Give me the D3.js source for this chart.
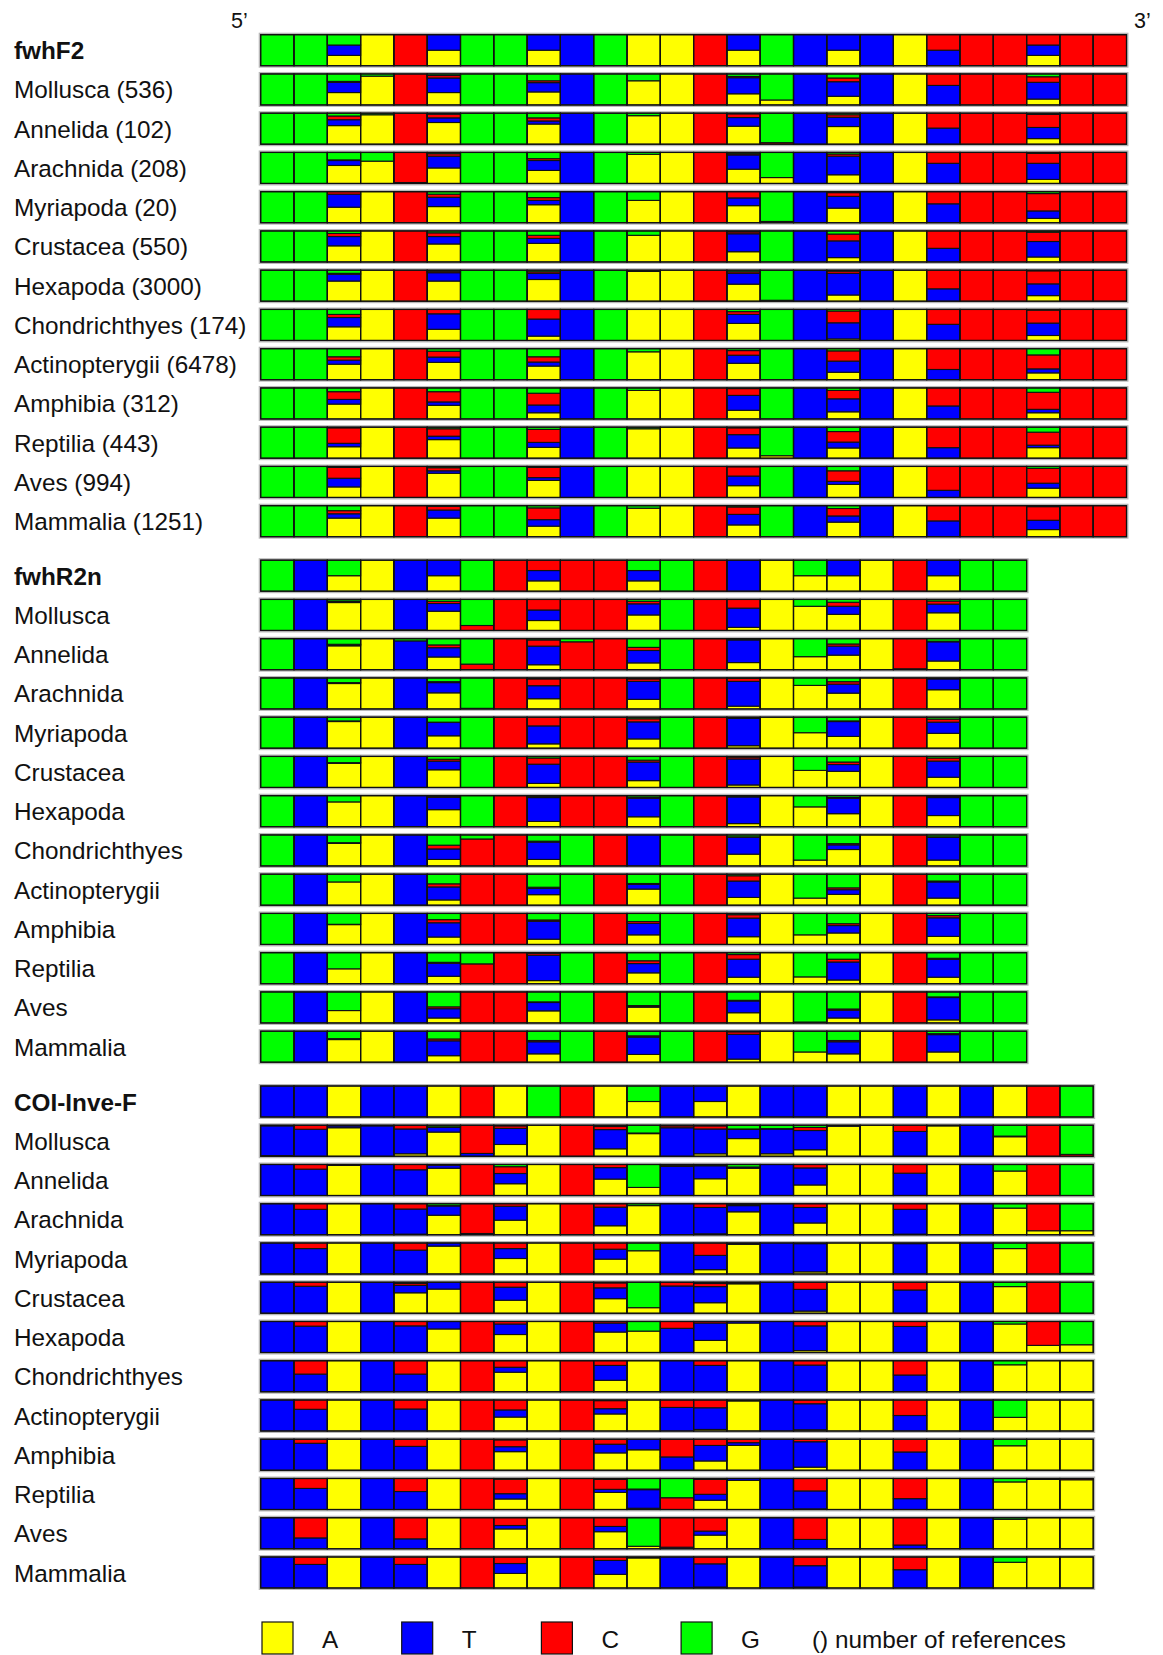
<!DOCTYPE html>
<html><head><meta charset="utf-8">
<script src="https://cdn.jsdelivr.net/npm/d3@7"></script>
<style>body{margin:0;background:#fff}</style>
</head><body>
<svg id="chart" width="1163" height="1655"></svg>
<script>
// ---------------- DATA ----------------
const bases = ["A", "T", "C", "G"];
const baseColors = ["#ffff00", "#0000ff", "#ff0000", "#00ff00"];
const iupac = {A:"A", T:"T", C:"C", G:"G", R:"AG", Y:"CT", W:"AT", D:"AGT", H:"ACT", S:"CG", K:"GT", M:"AC", N:"ACGT"};

const taxa = ["Mollusca","Annelida","Arachnida","Myriapoda","Crustacea","Hexapoda",
  "Chondrichthyes","Actinopterygii","Amphibia","Reptilia","Aves","Mammalia"];
const refCounts = [536, 102, 208, 20, 550, 3000, 174, 6478, 312, 443, 994, 1251];

const primers = ["fwhF2", "fwhR2n", "COI-Inve-F"];
const fwhF2Seq = "GGDACWGGWTGAACWGTWTAYCCHCC";
const fwhR2nSeq = "GTRATWGCHCCDGCTARWACWGG";
const coiInveFSeq = "TTATTACAGCARTWATTAATATACG";

// each cell: a base letter (100%) or [A%, T%, C%, G%]
const fwhF2Rows = [
 ["G","G",[40,33,3,24],[93,0,0,7],"C",[40,47,8,5],"G","G",[42,30,6,22],"T","G",[78,0,0,22],"A","C",[36,52,4,8],[16,0,0,84],"T",[28,47,12,13],"T","A",[0,63,37,0],"C","C",[19,54,18,9],"C","C"],
 ["G","G",[60,19,12,9],[95,0,0,5],"C",[70,15,12,3],"G","G",[65,10,10,15],"T","G",[92,0,0,8],"A","C",[58,28,12,2],[0,0,5,95],"T",[57,30,8,5],"T","A",[0,52,48,0],"C","C",[18,36,42,4],"C","C"],
 ["G","G",[58,16,2,24],[72,0,0,28],[0,3,97,0],[50,38,8,4],"G","G",[42,32,6,20],"T","G",[94,0,0,6],"A","C",[46,46,4,4],[19,0,0,81],"T",[28,60,7,5],"T","A",[0,65,35,0],"C","C",[13,52,32,3],"C","C"],
 ["G","G",[50,42,8,0],"A","C",[52,30,10,8],"G","G",[58,14,9,19],"T","G",[72,0,0,28],"A","C",[55,25,20,0],[4,0,0,96],"T",[47,38,12,3],"T","A",[0,61,39,0],"C","C",[14,24,56,6],"C","C"],
 ["G","G",[52,30,10,8],"A","C",[58,24,12,6],"G","G",[60,16,10,14],"T","G",[86,0,0,14],"A","C",[33,58,6,3],"G","T",[14,54,22,10],"T","A",[0,44,56,0],"C","C",[16,50,30,4],"C","C"],
 ["G","G",[65,22,3,10],"A","C",[65,27,5,3],"G","G",[70,20,5,5],"T","G",[96,0,0,4],"A","C",[55,35,5,5],[0,0,3,97],"T",[20,70,7,3],"T","A",[0,40,60,0],"C","C",[18,38,42,2],"C","C"],
 ["G","G",[44,30,10,16],"A","C",[36,50,14,0],"G","G",[14,55,31,0],"T","G","A","A","C",[55,29,9,7],"G","T",[5,52,38,5],"T","A",[0,52,48,0],"C","C",[16,40,42,2],"C","C"],
 ["G","G",[50,13,11,26],"A","C",[56,17,19,8],"G","G",[44,13,17,26],"T","G",[90,0,0,10],"A","C",[53,26,15,6],"G","T",[24,36,33,7],"T","A",[0,33,67,0],"C","C",[22,13,45,20],"C","C"],
 ["G","G",[48,15,25,12],"A","C",[44,11,33,12],"G","G",[20,25,38,17],"T","G",[92,0,0,8],"A","C",[28,48,22,2],"G","T",[23,42,27,8],"T","A",[0,42,58,0],"C","C",[20,11,55,14],"C","C"],
 ["G","G",[37,11,50,2],"A","C",[60,11,24,5],"G","G",[35,16,42,7],"T","G",[95,0,0,5],"A","C",[33,43,22,2],[8,0,0,92],"T",[33,19,34,14],"T","A",[0,34,66,0],"C","C",[34,8,42,16],"C","C"],
 ["G","G",[34,28,35,3],"A","C",[78,8,10,4],"G","G",[55,9,33,3],"T","G","A","A","C",[38,31,30,1],"G","T",[42,10,34,14],"T","A",[0,23,77,0],"C","C",[30,16,48,6],"C","C"],
 ["G","G",[60,14,10,16],"A","C",[60,26,12,2],"G","G",[34,21,38,7],"T","G",[92,0,0,8],"A","C",[38,34,24,4],"G","T",[47,20,24,9],"T","A",[0,51,49,0],"C","C",[23,30,44,3],"C","C"]
];

const fwhR2nRows = [
 ["G","T",[90,3,2,5],"A",[2,98,0,0],[62,25,7,6],[0,0,16,84],"C",[32,34,34,0],"C","C",[50,36,8,6],"G","C",[10,62,28,0],"A",[78,0,0,22],[52,26,13,9],"A","C",[57,28,10,5],"G","G"],
 ["G","T",[77,3,2,18],"A",[0,93,0,7],[41,30,9,20],[0,0,18,82],"C",[16,60,20,4],[0,0,90,10],"C",[22,40,10,28],"G","C",[23,73,2,2],"A",[42,0,0,58],[47,29,7,17],"A",[3,0,97,0],[28,62,2,8],"G","G"],
 ["G","T",[82,3,0,15],"A","T",[52,33,3,12],[0,0,2,98],"C",[33,42,22,3],"C","C",[31,58,8,3],"G","C",[9,80,10,1],"A",[76,0,0,24],[51,29,8,12],"A","C",[62,35,1,2],"G","G"],
 ["G","T",[86,2,0,12],"A","T",[40,43,1,16],"G","C",[14,58,28,0],"C","C",[30,55,10,5],"G","C",[8,88,2,2],"A",[50,0,0,50],[38,48,2,12],"A","C",[48,36,10,6],"G","G"],
 ["G","T",[78,2,0,20],"A","T",[57,28,6,9],"G","C",[13,62,20,5],"C","C",[22,60,6,12],"G","C",[8,84,6,2],"A",[55,0,0,45],[52,22,8,18],"A","C",[33,52,10,5],"G","G"],
 ["G","T",[80,0,0,20],"A","T",[55,40,3,2],"G","C",[17,77,4,2],"C","C",[32,60,3,5],"G","C",[10,86,2,2],"A",[64,0,0,36],[42,50,2,6],"A","C",[36,58,3,3],"G","G"],
 ["G","T",[73,2,0,25],"A","T",[21,34,12,33],[0,0,87,13],"C",[21,56,3,20],"G","C","T","G","C",[38,55,1,6],"A",[19,0,0,81],[53,15,4,28],"A","C",[19,73,2,6],"G","G"],
 ["G","T",[75,0,0,25],"A","T",[17,42,10,31],"C","C",[34,20,4,42],"G","C",[52,15,3,30],"G","C",[25,53,17,5],"A",[23,0,0,77],[35,15,6,44],"A","C",[23,52,3,22],"G","G"],
 ["G","T",[64,1,0,35],"A","T",[24,46,10,20],"C","C",[17,58,4,21],"G","C",[31,37,6,26],"G","C",[25,60,11,4],"A",[31,0,0,69],[37,24,6,33],"A","C",[26,60,7,7],"G","G"],
 ["G","T",[48,0,0,52],"A","T",[24,42,3,31],[0,0,64,36],"C",[10,82,6,2],"G","C",[35,30,9,26],"G","C",[21,58,15,6],"A",[22,0,0,78],[12,58,9,21],"A","C",[21,58,3,18],"G","G"],
 ["G","T",[40,0,0,60],"A","T",[16,30,6,48],"C","C",[39,27,2,32],"G","C",[51,3,2,44],"G","C",[33,38,2,27],"A",[3,0,0,97],[16,25,4,55],"A","C",[10,72,2,16],"G","G"],
 ["G","T",[73,3,0,24],"A","T",[21,48,6,25],"C","C",[27,39,4,30],"G","C",[25,56,4,15],"G","C",[10,80,8,2],"A",[33,0,0,67],[27,39,4,30],"A","C",[33,56,3,8],"G","G"]
];

const coiInveFRows = [
 [[2,96,0,2],[0,87,13,0],[92,6,2,0],[0,98,2,0],[8,80,12,0],[78,15,2,5],[0,9,91,0],[38,52,8,2],"A","C",[24,62,10,4],[73,2,0,25],[0,92,6,2],[8,80,10,2],[57,30,1,12],[8,80,1,11],[21,62,10,7],[97,3,0,0],"A",[0,80,20,0],[98,2,0,0],"T",[63,2,0,35],"C",[0,0,6,94]],
 ["T",[0,85,15,0],[97,0,3,0],"T",[0,83,17,0],[88,10,2,0],"C",[38,33,22,7],"A","C",[53,37,10,0],[26,0,0,74],[0,94,4,2],[54,42,2,2],[88,4,0,8],"T",[34,55,11,0],"A","A",[0,72,28,0],"A","T",[79,0,0,21],"C","G"],
 ["T",[0,82,18,0],"A","T",[2,81,17,0],[63,30,1,6],[0,4,96,0],[47,45,8,0],"A","C",[29,60,11,0],[94,0,0,6],"T",[3,85,12,0],[74,20,3,3],"T",[38,50,12,0],"A","A",[2,80,18,0],"A","T",[86,0,0,14],[13,0,87,0],[13,0,0,87]],
 ["T",[0,82,18,0],"A","T",[0,77,23,0],[90,10,0,0],"C",[50,32,18,0],"A","C",[48,32,20,0],[75,0,0,25],"T",[14,46,40,0],[96,2,2,0],"T",[7,91,2,0],"A","A",[0,98,2,0],"A","T",[82,0,0,18],"C",[2,0,0,98]],
 ["T",[0,87,13,0],"A","T",[66,24,6,4],[78,22,0,0],"C",[42,42,16,0],"A","C",[47,35,16,2],[18,0,0,82],[0,88,12,0],[34,52,10,4],[95,3,2,0],"T",[7,70,23,0],"A","A",[0,75,25,0],"A","T",[86,0,0,14],"C","G"],
 ["T",[0,85,15,0],"A","T",[0,86,14,0],[76,24,0,0],"C",[58,34,8,0],"A","C",[66,29,5,0],[69,0,0,31],[0,78,22,0],[39,56,5,0],[95,5,0,0],"T",[6,80,14,0],"A","A",[0,84,16,0],"A","T",[92,0,0,8],[23,0,77,0],[25,0,0,75]],
 ["T",[0,57,43,0],"A","T",[0,57,43,0],"A","C",[63,16,21,0],"A","C",[37,48,15,0],"A","T",[0,85,15,0],"A","T",[0,86,14,0],"A","A",[0,54,46,0],"A","T",[87,0,0,13],"A","A"],
 ["T",[0,70,30,0],"A","T",[0,71,29,0],"A","C",[45,23,32,0],"A","C",[55,17,26,2],"A",[0,76,24,0],[5,70,25,0],[97,3,0,0],"T",[4,84,12,0],"A","A",[0,50,50,0],"A","T",[44,0,0,56],"A","A"],
 ["T",[0,87,13,0],"A","T",[0,77,23,0],"A","C",[60,16,22,2],"A","C",[56,28,16,0],[66,34,0,0],[0,43,57,0],[30,50,20,0],[80,9,11,0],"T",[10,82,8,0],"A","A",[0,59,41,0],"A","T",[79,0,0,21],"A","A"],
 ["T",[0,68,32,0],"A","T",[0,58,42,0],"A","C",[34,17,47,2],"A","C",[55,10,32,3],[4,60,2,34],[0,0,38,62],[30,19,48,3],[94,6,0,0],"T",[2,58,40,0],"A","A",[0,35,65,0],"A","T",[89,0,0,11],[97,3,0,0],[96,0,4,0]],
 ["T",[0,35,65,0],"A","T",[0,32,68,0],"A","C",[64,11,25,0],"A","C",[55,17,28,0],[8,0,0,92],[0,5,95,0],[44,13,43,0],"A","T",[0,30,70,0],"A","A",[0,12,88,0],"A","T",[95,0,0,5],"A","A"],
 ["T",[0,76,24,0],"A","T",[0,76,24,0],"A","C",[47,32,21,0],"A","C",[44,45,11,0],[97,0,0,3],"T",[3,75,22,0],"A","T",[3,69,28,0],"A","A",[0,59,41,0],"A","T",[83,0,0,17],"A","A"]
];

const legendLabels = ["A", "T", "C", "G"];
const legendNote = "() number of references";

// ---------------- DRAW ----------------
const svg = d3.select("#chart");
const font = "'Liberation Sans', Arial, sans-serif";
const fontSize = 24.3;

const cellX0 = 260.7, cellW = 33.3, rowH = 31, rowStep = 39.25;
const panelTops = [34.7, 560.2, 1086];

function toProps(tok) {
  if (Array.isArray(tok)) return tok;
  return bases.map(b => (b === tok ? 100 : 0));
}
function headerProps(code) {
  const set = iupac[code];
  return bases.map(b => set.includes(b) ? 100 / set.length : 0);
}

const panels = [
  {name: primers[0], seq: fwhF2Seq, rows: fwhF2Rows, counts: true},
  {name: primers[1], seq: fwhR2nSeq, rows: fwhR2nRows, counts: false},
  {name: primers[2], seq: coiInveFSeq, rows: coiInveFRows, counts: false}
];

const stack = d3.stack().keys(d3.range(4));

panels.forEach((p, pi) => {
  const n = p.seq.length;
  const xs = d3.scaleBand().domain(d3.range(n)).range([cellX0, cellX0 + n * cellW]);
  const allRows = [Array.from(p.seq).map(headerProps)].concat(p.rows.map(r => r.map(toProps)));
  const labels = [p.name].concat(taxa.map((t, i) => p.counts ? `${t} (${refCounts[i]})` : t));
  const ys = d3.scaleBand().domain(d3.range(allRows.length))
    .range([panelTops[pi], panelTops[pi] + allRows.length * rowStep]);

  allRows.forEach((cells, ri) => {
    const top = ys(ri);
    const yv = d3.scaleLinear().domain([0, 100]).range([top + rowH, top]);
    const g = svg.append("g");
    g.append("rect").attr("x", xs(0) - 1).attr("y", top - 1)
      .attr("width", n * cellW + 2).attr("height", rowH + 2)
      .attr("fill", "none").attr("stroke", "#b8b8b8").attr("stroke-width", 2);
    const series = stack(cells);
    series.forEach((s, bi) => {
      g.selectAll(null).data(s.map((d, ci) => ({d, ci}))).join("rect")
        .filter(o => o.d[1] - o.d[0] > 0)
        .attr("x", o => xs(o.ci))
        .attr("width", xs.bandwidth())
        .attr("y", o => yv(o.d[1]))
        .attr("height", o => yv(o.d[0]) - yv(o.d[1]))
        .attr("fill", baseColors[bi])
        .attr("stroke", "#111").attr("stroke-width", 1.1);
    });
    g.selectAll(null).data(d3.range(n)).join("rect")
      .attr("x", c => xs(c)).attr("y", top)
      .attr("width", xs.bandwidth()).attr("height", rowH)
      .attr("fill", "none").attr("stroke", "#111").attr("stroke-width", 1.2);

    svg.append("text").attr("x", 14).attr("y", top + rowH / 2 + 0.5)
      .attr("dominant-baseline", "central")
      .attr("font-family", font).attr("font-size", fontSize)
      .attr("font-weight", ri === 0 ? "bold" : "normal")
      .attr("fill", "#111").text(labels[ri]);
  });
});

// 5' / 3'
svg.append("text").attr("x", 231).attr("y", 21).attr("dominant-baseline", "central")
  .attr("font-family", font).attr("font-size", 21.5).attr("fill", "#111").text("5’");
svg.append("text").attr("x", 1134).attr("y", 21).attr("dominant-baseline", "central")
  .attr("font-family", font).attr("font-size", 21.5).attr("fill", "#111").text("3’");

// legend
const lx = d3.scaleLinear().domain([0, 1]).range([262, 401.7]);
const lg = svg.append("g");
legendLabels.forEach((l, i) => {
  lg.append("rect").attr("x", lx(i)).attr("y", 1622).attr("width", 31).attr("height", 32)
    .attr("fill", baseColors[i]).attr("stroke", "#111").attr("stroke-width", 1.2);
  lg.append("text").attr("x", lx(i) + 60).attr("y", 1639).attr("dominant-baseline", "central")
    .attr("font-family", font).attr("font-size", fontSize).attr("fill", "#111").text(l);
});
lg.append("text").attr("x", 812).attr("y", 1639).attr("dominant-baseline", "central")
  .attr("font-family", font).attr("font-size", fontSize).attr("fill", "#111").text(legendNote);
</script>
</body></html>
